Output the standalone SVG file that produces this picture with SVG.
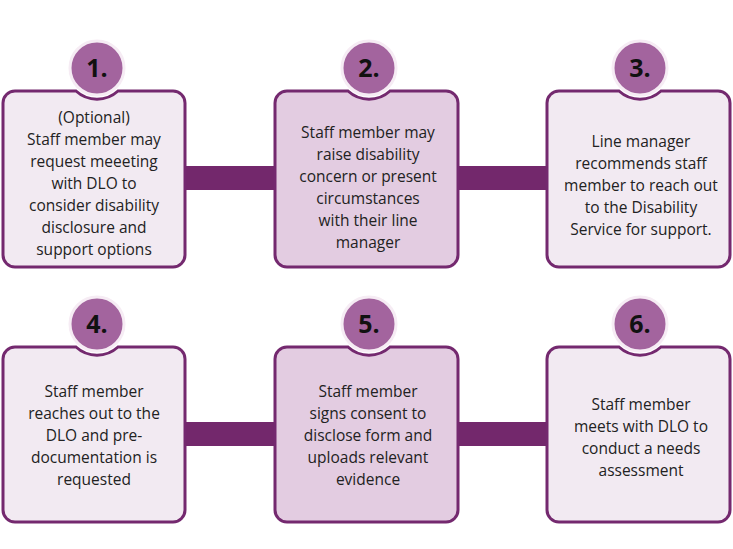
<svg xmlns="http://www.w3.org/2000/svg" width="733" height="549" viewBox="0 0 733 549">
<style>
.bx{stroke:#74296f;stroke-width:3}
.a{fill:#f2eaf2}.b{fill:#e3cce1}
.c{fill:#a3649e;stroke:#f6ecf4;stroke-width:3}
.n{font:bold 25px "Open Sans",sans-serif;fill:#111;text-anchor:middle}
.t{font:15.5px "Open Sans",sans-serif;fill:#222;text-anchor:middle}
.bar{fill:#73286c}
</style>
<rect width="733" height="549" fill="#fff"/>
<g id="connectors">
<rect class="bar" x="185" y="166" width="91" height="24"/>
<rect class="bar" x="458" y="166" width="90" height="24"/>
<rect class="bar" x="185" y="422" width="91" height="24"/>
<rect class="bar" x="458" y="422" width="90" height="24"/>
</g>
<g id="node1">
<path class="bx a" d="M76,91 A31,31 0 0 0 118,91 H173 A12,12 0 0 1 185,103 V255 A12,12 0 0 1 173,267 H15 A12,12 0 0 1 3,255 V103 A12,12 0 0 1 15,91 Z"/>
<circle class="c" cx="97" cy="68" r="27"/><text class="n" x="97" y="77">1.</text>
<text class="t"><tspan x="94" y="123">(Optional)</tspan><tspan x="94" y="145">Staff member may</tspan><tspan x="94" y="167">request meeeting</tspan><tspan x="94" y="189">with DLO to</tspan><tspan x="94" y="211">consider disability</tspan><tspan x="94" y="233">disclosure and</tspan><tspan x="94" y="255">support options</tspan></text>
</g>
<g id="node2">
<path class="bx b" d="M348,91 A31,31 0 0 0 390,91 H446 A12,12 0 0 1 458,103 V255 A12,12 0 0 1 446,267 H287 A12,12 0 0 1 275,255 V103 A12,12 0 0 1 287,91 Z"/>
<circle class="c" cx="369" cy="68" r="27"/><text class="n" x="369" y="77">2.</text>
<text class="t"><tspan x="368" y="138">Staff member may</tspan><tspan x="368" y="160">raise disability</tspan><tspan x="368" y="182">concern or present</tspan><tspan x="368" y="204">circumstances</tspan><tspan x="368" y="226">with their line</tspan><tspan x="368" y="248">manager</tspan></text>
</g>
<g id="node3">
<path class="bx a" d="M619,91 A31,31 0 0 0 661,91 H718 A12,12 0 0 1 730,103 V255 A12,12 0 0 1 718,267 H559 A12,12 0 0 1 547,255 V103 A12,12 0 0 1 559,91 Z"/>
<circle class="c" cx="640" cy="68" r="27"/><text class="n" x="640" y="77">3.</text>
<text class="t"><tspan x="641" y="147">Line manager</tspan><tspan x="641" y="169">recommends staff</tspan><tspan x="641" y="191">member to reach out</tspan><tspan x="641" y="213">to the Disability</tspan><tspan x="641" y="235">Service for support.</tspan></text>
</g>
<g id="node4">
<path class="bx a" d="M76,347 A31,31 0 0 0 118,347 H173 A12,12 0 0 1 185,359 V510 A12,12 0 0 1 173,522 H15 A12,12 0 0 1 3,510 V359 A12,12 0 0 1 15,347 Z"/>
<circle class="c" cx="97" cy="324" r="27"/><text class="n" x="97" y="333">4.</text>
<text class="t"><tspan x="94" y="397">Staff member</tspan><tspan x="94" y="419">reaches out to the</tspan><tspan x="94" y="441">DLO and pre-</tspan><tspan x="94" y="463">documentation is</tspan><tspan x="94" y="485">requested</tspan></text>
</g>
<g id="node5">
<path class="bx b" d="M348,347 A31,31 0 0 0 390,347 H446 A12,12 0 0 1 458,359 V510 A12,12 0 0 1 446,522 H287 A12,12 0 0 1 275,510 V359 A12,12 0 0 1 287,347 Z"/>
<circle class="c" cx="369" cy="324" r="27"/><text class="n" x="369" y="333">5.</text>
<text class="t"><tspan x="368" y="397">Staff member</tspan><tspan x="368" y="419">signs consent to</tspan><tspan x="368" y="441">disclose form and</tspan><tspan x="368" y="463">uploads relevant</tspan><tspan x="368" y="485">evidence</tspan></text>
</g>
<g id="node6">
<path class="bx a" d="M619,347 A31,31 0 0 0 661,347 H718 A12,12 0 0 1 730,359 V510 A12,12 0 0 1 718,522 H559 A12,12 0 0 1 547,510 V359 A12,12 0 0 1 559,347 Z"/>
<circle class="c" cx="640" cy="324" r="27"/><text class="n" x="640" y="333">6.</text>
<text class="t"><tspan x="641" y="410">Staff member</tspan><tspan x="641" y="432">meets with DLO to</tspan><tspan x="641" y="454">conduct a needs</tspan><tspan x="641" y="476">assessment</tspan></text>
</g>
</svg>
